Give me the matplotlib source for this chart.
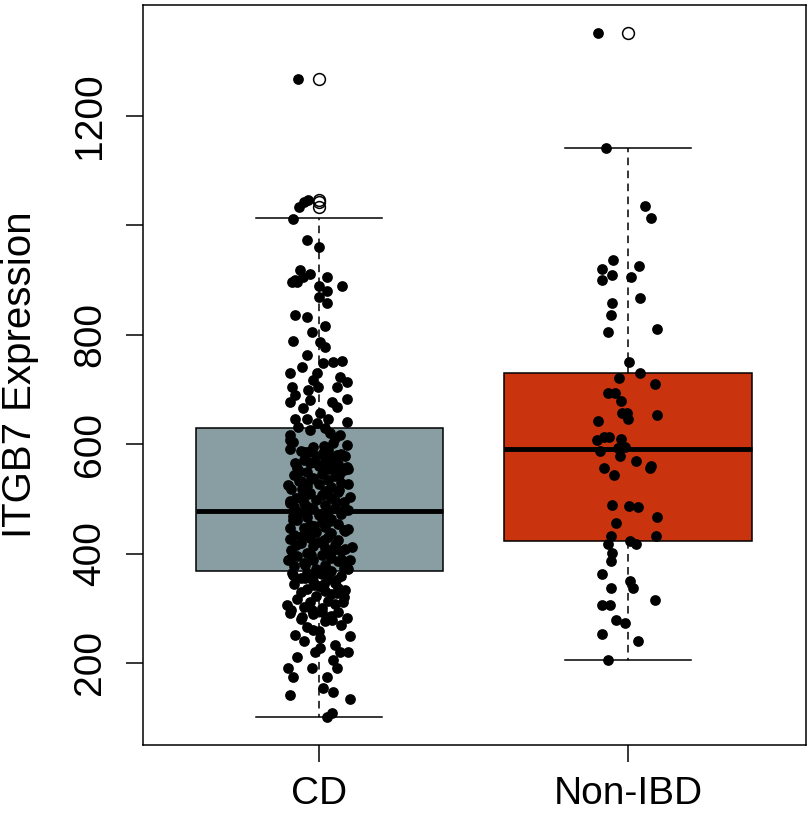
import matplotlib
matplotlib.use("Agg")
import matplotlib.pyplot as plt

plt.rcParams['font.family'] = ['Liberation Sans', 'DejaVu Sans']

groups = ["CD", "Non-IBD"]
box_colors = ["#899EA3", "#C9340F"]

# box statistics
stats_cd = dict(med=478, q1=368, q3=629, whislo=101, whishi=1013,
                fliers=[1033, 1042, 1047, 1267])
stats_non = dict(med=591, q1=423, q3=730, whislo=205, whishi=1142,
                 fliers=[1352])

# CD points: value, jitter offset
cd_vals = [1267, 1033, 1042, 1047, 1011, 974, 960, 918, 900, 905, 912, 905, 890, 890,
           881, 870, 858, 896, 896, 836, 832,
           816, 805, 788, 786, 777, 764, 752, 750, 748, 741, 730, 730, 722, 717, 713,
           704, 704, 699, 704, 690, 682, 677, 677, 680, 668, 666, 658, 647, 646, 647,
           640, 638, 631, 629, 616, 616, 602, 607, 598, 626,
           565, 525, 492, 503, 558, 580, 584, 447, 412, 388, 388, 364,
           595, 590, 588, 583, 578, 575, 572, 570, 566, 563, 560, 557, 555, 552, 549,
           546, 543, 541, 538, 535, 532, 530, 527, 524, 521, 518, 515, 513, 510, 507,
           504, 501, 498, 495, 492, 489, 486, 484, 481, 478, 476, 473, 470, 467, 464,
           461, 458, 455, 452, 449, 446, 443, 440, 437, 434, 431, 428, 425, 422, 419,
           416, 413, 410, 407, 404, 401, 398, 395, 392, 389, 386, 383, 380, 377, 374,
           371, 368, 365, 362, 359, 356, 353, 350, 347, 344, 341, 338, 335, 332, 329,
           326, 323, 320, 317, 314, 311, 308, 303, 300, 297, 294, 289, 286, 280, 276,
           270, 265, 258, 240, 232,
           612, 604, 597, 586, 579, 568, 561, 551, 544, 536, 528, 519, 511, 502, 494,
           485, 477, 468, 460, 451, 442, 433, 424, 415, 406, 397, 388, 379, 370, 361,
           352, 343, 334, 592, 573, 554, 533, 516, 497, 480, 462, 445, 427, 409, 391,
           372, 355, 620, 585, 548, 509, 471, 436, 399, 363, 345,
           306, 291, 328, 311, 282, 284, 297, 293, 279, 260, 246, 251, 249, 220, 227,
           220, 220, 211, 205, 191, 191, 191, 174, 174, 154, 147, 142, 134, 101, 109]
cd_jit = [-0.068, -0.065, -0.049, -0.036, -0.084, -0.039, 0.0, -0.061, -0.078, -0.052,
          -0.029, 0.026, 0.074, 0.0, 0.026, 0.0, 0.026, -0.071, -0.087, -0.078, -0.039,
          0.019, -0.023, -0.084, 0.003, 0.019, -0.039, 0.074, 0.045, 0.013, -0.055,
          -0.094, -0.006, 0.068, -0.019, 0.091, 0.058, -0.087, -0.036, -0.003, -0.078,
          0.091, 0.042, -0.094, -0.029, 0.058, -0.052, 0.003, -0.078, -0.039, 0.029,
          0.091, -0.006, -0.068, 0.019, -0.094, 0.068, 0.045, -0.094, 0.091, -0.029,
          -0.078, -0.1, -0.094, 0.1, 0.091, 0.058, 0.013, -0.094, 0.107, -0.1, 0.1, -0.087,
          -0.02, 0.03, -0.06, 0.07, -0.01, 0.04, -0.05, 0.02, -0.03, 0.06, 0.0, -0.07,
          0.03, 0.08, -0.04, 0.01, -0.08, 0.05, -0.02, 0.03, -0.06, 0.07, 0.0, -0.04,
          0.04, -0.09, 0.02, 0.06, -0.03, 0.01, -0.06, 0.04, -0.01, 0.08, -0.05, 0.02,
          -0.08, 0.05, -0.02, 0.03, -0.06, 0.07, 0.0, -0.04, 0.04, -0.07, 0.01, 0.06,
          -0.03, 0.02, -0.05, 0.08, -0.01, 0.04, -0.08, 0.03, -0.03, 0.06, 0.0, -0.06,
          0.05, -0.02, 0.02, -0.09, 0.07, -0.04, 0.01, -0.07, 0.04, -0.02, 0.06, -0.05,
          0.02, -0.08, 0.08, -0.01, 0.04, -0.04, 0.01, 0.07, -0.06, 0.03, -0.02, 0.05,
          -0.08, 0.0, 0.06, -0.04, 0.02, -0.06, 0.04, -0.01, 0.08, -0.07, 0.03, -0.03,
          0.05, -0.05, 0.01, -0.09, 0.06, -0.02, 0.04, -0.06, 0.02, 0.07, -0.04, 0.0,
          -0.05, 0.05,
          0.05, -0.085, 0.015, -0.035, 0.085, -0.015, 0.045, -0.065, 0.065, -0.025,
          0.095, -0.055, 0.025, -0.075, 0.055, -0.035, 0.075, -0.085, 0.035, -0.015,
          0.085, -0.055, 0.015, -0.075, 0.045, -0.025, 0.075, -0.045, 0.025, -0.085,
          0.055, -0.015, 0.085, -0.095, -0.045, 0.095, -0.065, 0.065, -0.095, 0.095,
          -0.085, 0.095, -0.095, 0.085, -0.095, 0.095, -0.045, 0.035, -0.045, 0.055,
          -0.035, 0.025, -0.025, 0.035, -0.015, 0.015,
          -0.104, -0.094, 0.058, 0.078, 0.091, -0.055, -0.023, 0.010, 0.042, -0.019,
          0.003, -0.078, 0.1, -0.013, 0.003, 0.068, 0.094, -0.071, 0.045, 0.058, -0.1,
          -0.023, -0.084, 0.026, 0.013, 0.045, -0.094, 0.1, 0.026, 0.042]

# Non-IBD points: value, jitter offset
non_vals = [1352, 1142, 1035, 1013, 936, 921, 925, 910, 900, 905, 859, 867, 836, 806,
            810, 750, 730, 721, 711, 693, 693, 679, 657, 658, 646, 653, 642, 607, 613,
            613, 609, 587, 593, 595, 578, 569, 556, 556, 560, 543, 489, 487, 485, 467,
            456, 432, 432, 417, 423, 417, 401, 386, 363, 350, 337, 337, 315, 306, 306,
            279, 273, 253, 240, 205]
non_jit = [-0.097, -0.071, 0.055, 0.074, -0.049, -0.084, 0.036, -0.052, -0.084, 0.010,
           -0.052, 0.039, -0.055, -0.065, 0.094, 0.003, 0.039, -0.029, 0.087, -0.065,
           -0.042, -0.023, -0.019, -0.003, 0.0, 0.094, -0.097, -0.100, -0.078, -0.061,
           -0.023, -0.091, -0.032, -0.010, -0.026, 0.026, -0.078, 0.071, 0.074, -0.045,
           -0.052, 0.003, 0.032, 0.094, -0.039, -0.055, 0.091, -0.065, 0.006, 0.026,
           -0.052, -0.055, -0.084, 0.006, 0.016, -0.055, 0.087, -0.084, -0.058, -0.039,
           -0.010, -0.084, 0.032, -0.065]

fig = plt.figure(figsize=(8.08, 8.13), dpi=100)
ax = fig.add_axes([0.177, 0.0836, 0.8205, 0.9102])

bp = ax.bxp([stats_cd, stats_non], positions=[1, 2], widths=0.8, patch_artist=True,
            showfliers=True,
            boxprops=dict(edgecolor="black", linewidth=1.1),
            medianprops=dict(color="black", linewidth=3.5, solid_capstyle="butt"),
            whiskerprops=dict(color="black", linewidth=1.1, linestyle=(0, (5, 3.5))),
            capprops=dict(color="black", linewidth=1.1),
            capwidths=0.41,
            flierprops=dict(marker="o", markerfacecolor="none", markeredgecolor="black",
                            markersize=8.5, markeredgewidth=1.1))
for patch, c in zip(bp["boxes"], box_colors):
    patch.set_facecolor(c)

ax.scatter([1 + j for j in cd_jit], cd_vals, s=60, color="black", zorder=5, linewidths=0)
ax.scatter([2 + j for j in non_jit], non_vals, s=60, color="black", zorder=5, linewidths=0)

ax.set_xlim(0.43, 2.576)
ax.set_ylim(50, 1403)
ax.set_xticks([1, 2])
ax.set_xticklabels(groups, fontsize=28)
ax.set_yticks([200, 400, 600, 800, 1000, 1200])
ax.set_yticklabels(["200", "400", "600", "800", "", "1200"], fontsize=28,
                   rotation=90, va="center")
ax.tick_params(axis="both", direction="out", length=12, width=1.1, pad=10)
ax.tick_params(axis="y", pad=13)
ax.set_ylabel("ITGB7 Expression", fontsize=29)
ax.yaxis.set_label_coords(-0.157, 0.5)
for sp in ax.spines.values():
    sp.set_linewidth(1.1)

fig.savefig("out.png", dpi=100)
